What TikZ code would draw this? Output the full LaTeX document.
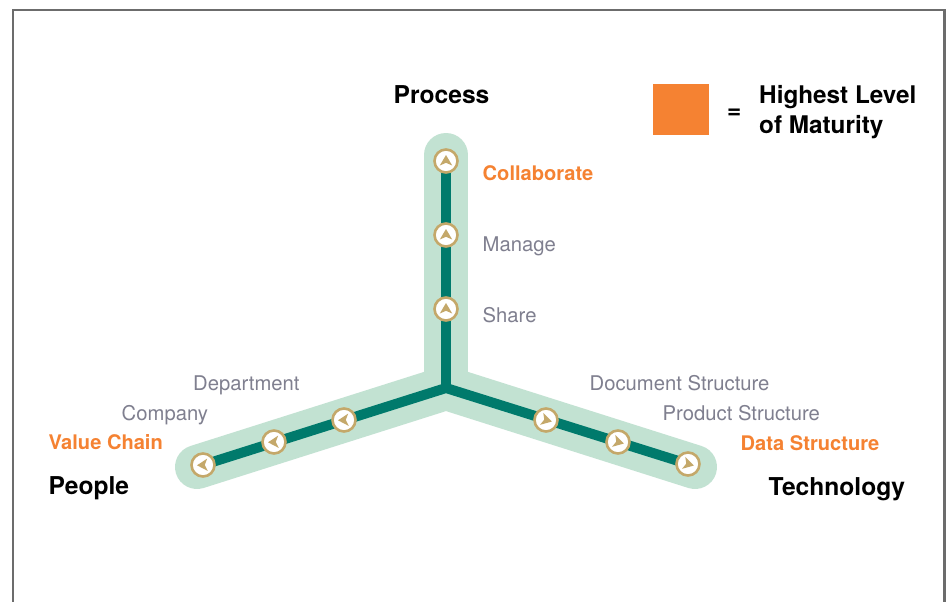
\documentclass[tikz,border=0pt]{standalone}
\usepackage{fontspec}
\usetikzlibrary{backgrounds}
\setmainfont{TeX Gyre Heros}
\definecolor{halo}{HTML}{C2E2D2}
\definecolor{spine}{HTML}{007A6C}
\definecolor{ringgold}{HTML}{C4A86A}
\definecolor{mature}{HTML}{F58232}
\definecolor{greytext}{HTML}{7F7F8F}
\definecolor{framegrey}{HTML}{6C6C6C}
\tikzset{
  halopath/.style={draw=halo,line width=44pt,line cap=round,line join=miter},
  spinepath/.style={draw=spine,line width=10pt,line cap=butt,line join=miter},
  ring/.style={circle,draw=ringgold,fill=white,line width=2.6pt,minimum size=23pt,inner sep=0pt},
  dart/.style={fill=ringgold},
  axislabel/.style={anchor=base west,inner sep=0pt,font=\bfseries\fontsize{24.6}{24.6}\selectfont,text=black},
  legendlabel/.style={anchor=base west,inner sep=0pt,font=\bfseries\fontsize{24.3}{24.3}\selectfont,text=black},
  toplabel/.style={anchor=base west,inner sep=0pt,font=\bfseries\fontsize{20.1}{20.1}\selectfont,text=mature},
  stagelabel/.style={anchor=base west,inner sep=0pt,font=\fontsize{20.25}{20.25}\selectfont,text=greytext},
}
\begin{document}
\begin{tikzpicture}[x=1pt,y=-1pt]
\useasboundingbox (0,0) rectangle (950,602);
\coordinate (hub) at (446,388);
\coordinate (haloTop) at (446,155);
\coordinate (haloLeft) at (197,467);
\coordinate (haloRight) at (695,467);
\node[ring] (p3) at (446,161) {};
\node[ring] (p2) at (446,235) {};
\node[ring] (p1) at (446,309) {};
\node[ring] (l3) at (203,465) {};
\node[ring] (l2) at (274,442) {};
\node[ring] (l1) at (344,420) {};
\node[ring] (r3) at (688,464) {};
\node[ring] (r2) at (618,442) {};
\node[ring] (r1) at (546,420) {};
\begin{scope}[on background layer]
\fill[white] (0,0) rectangle (950,602);
\draw[framegrey,line width=2.8pt] (13,603) -- (13,10) -- (944.5,10) -- (944.5,603);
\draw[halopath] (haloLeft) -- (hub) -- (haloRight);
\draw[halopath] (haloTop) -- (hub);
\draw[spinepath] (l3.center) -- (hub) -- (r3.center);
\draw[spinepath] (p3.center) -- (hub);
\end{scope}
\foreach \n/\a in {p3/0,p2/0,p1/0,l3/93,l2/93,l1/93,r3/-105,r2/-105,r1/-105}{
  \fill[dart,shift={(\n.center)},rotate=\a] (0,-6) -- (6.2,4.5) -- (0,1.8) -- (-6.2,4.5) -- cycle;
}
\node[axislabel] (process) at (393.5,103) {Process};
\node[axislabel] (people) at (48.5,494) {People};
\node[axislabel] (technology) at (768.5,495) {Technology};
\node[toplabel] (collab) at (482.5,180) {Collaborate};
\node[stagelabel] (manage) at (482.5,251) {Manage};
\node[stagelabel] (share) at (482.5,322) {Share};
\node[stagelabel] (dept) at (193,390) {Department};
\node[stagelabel] (company) at (121.5,420) {Company};
\node[toplabel] (value) at (48.5,449) {Value Chain};
\node[stagelabel] (docs) at (589.5,390.5) {Document Structure};
\node[stagelabel] (prod) at (662.5,420) {Product Structure};
\node[toplabel] (data) at (740.5,450) {Data Structure};
\fill[mature] (653,84) rectangle (709,135);
\node[legendlabel] (eq) at (727,118) {=};
\node[legendlabel] (high) at (759,103) {Highest Level};
\node[legendlabel] (mat) at (759,133) {of Maturity};
\end{tikzpicture}
\end{document}
